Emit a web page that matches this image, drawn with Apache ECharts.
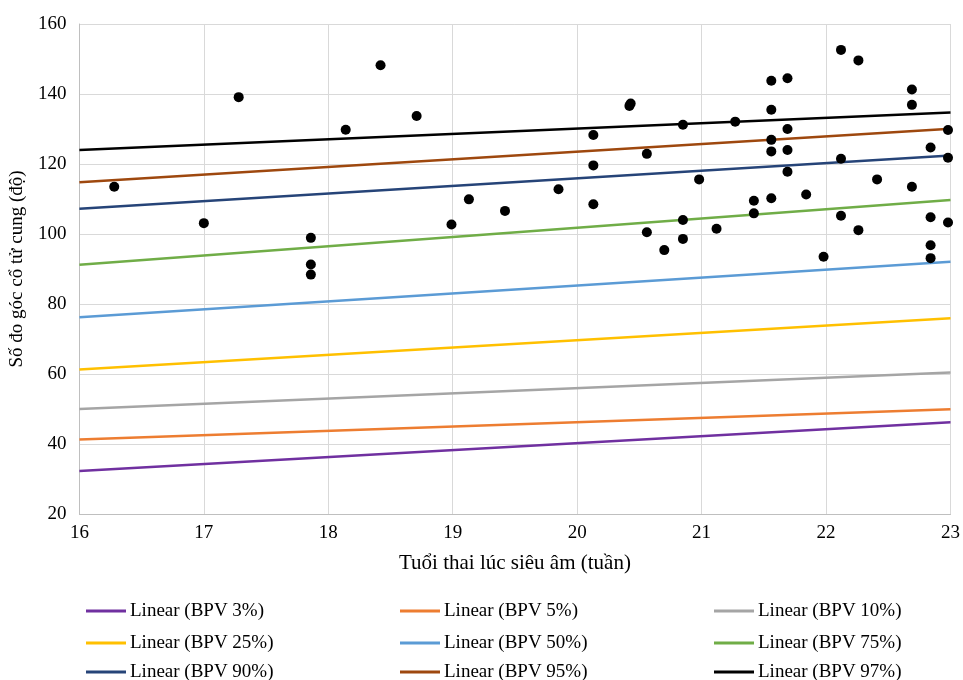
<!DOCTYPE html>
<html>
<head>
<meta charset="utf-8">
<script src="https://cdn.jsdelivr.net/npm/echarts@6/dist/echarts.min.js"></script>
<style>
	html, body { margin: 0; padding: 0; background: #fff; }
	#chart { width: 963px; height: 680px; }
</style>
</head>
<body>
<div id="chart"></div>
<script>
// tuổi thai (tuần) và số đo góc (độ) của từng ca
const ageWeeks = [
	16.28, 17.0, 17.28, 17.86, 17.86, 17.86, 18.14, 18.42, 18.71, 18.99,
	19.13, 19.42, 19.85, 20.13, 20.13, 20.13, 20.42, 20.43, 20.56, 20.56,
	20.7, 20.85, 20.85, 20.85, 20.98, 21.12, 21.27, 21.42, 21.42, 21.56,
	21.56, 21.56, 21.56, 21.56, 21.69, 21.69, 21.69, 21.69, 21.84, 21.98,
	22.12, 22.12, 22.12, 22.26, 22.26, 22.41, 22.69, 22.69, 22.69, 22.84,
	22.84, 22.84, 22.84, 22.98, 22.98, 22.98,
];
const angleDeg = [
	113.5, 103.1, 139.1, 98.9, 91.3, 88.4, 129.8, 148.2, 133.7, 102.7,
	109.9, 106.6, 112.8, 128.3, 119.6, 108.5, 136.6, 137.3, 122.9, 100.5,
	95.4, 131.2, 104.0, 98.6, 115.6, 101.5, 132.1, 109.5, 105.9, 143.8,
	135.5, 126.9, 123.6, 110.2, 144.5, 130.0, 124.0, 117.8, 111.3, 93.5,
	152.6, 121.5, 105.2, 149.6, 101.1, 115.6, 141.3, 136.9, 113.5, 124.7,
	104.8, 96.8, 93.1, 129.7, 121.8, 103.3,
];

// đường xu hướng bách phân vị: giá trị tại tuần 16 và tuần 23
const trendNames = [
	"Linear (BPV 3%)", "Linear (BPV 5%)", "Linear (BPV 10%)",
	"Linear (BPV 25%)", "Linear (BPV 50%)", "Linear (BPV 75%)",
	"Linear (BPV 90%)", "Linear (BPV 95%)", "Linear (BPV 97%)",
];
const trendStart = [32.3, 41.3, 50.0, 61.3, 76.2, 91.2, 107.2, 114.8, 124.0];
const trendEnd = [46.2, 49.9, 60.4, 75.9, 92.1, 109.7, 122.4, 130.1, 134.7];
const trendColors = [
	"#7030a0", "#ed7d31", "#a5a5a5",
	"#ffc000", "#5b9bd5", "#70ad47",
	"#264478", "#9e480e", "#000000",
];

const xTicks = [16, 17, 18, 19, 20, 21, 22, 23];
const yTicks = [20, 40, 60, 80, 100, 120, 140, 160];

const font = "'Liberation Serif', 'Times New Roman', serif";
const fontSize = 19;

const chart = echarts.init(document.getElementById("chart"), null, { renderer: "canvas" });

const legendCols = [86, 400, 714];
const legendRows = [611, 643, 672];

const legends = trendNames.map((name, i) => ({
	left: legendCols[i % 3],
	top: legendRows[Math.floor(i / 3)] - 10,
	padding: 0,
	itemWidth: 40,
	itemHeight: 3,
	itemGap: 0,
	textStyle: {
		fontFamily: font,
		fontSize: fontSize,
		color: "#000",
		lineHeight: 20,
		padding: [0, 0, 0, -1],
	},
	data: [{ name: name, icon: "rect" }],
}));

const trendSeries = trendNames.map((name, i) => ({
	name: name,
	type: "line",
	data: [
		[xTicks[0], trendStart[i]],
		[xTicks[xTicks.length - 1], trendEnd[i]],
	],
	symbol: "none",
	lineStyle: { color: trendColors[i], width: 2.5 },
	itemStyle: { color: trendColors[i] },
	silent: true,
	z: 2,
}));

const option = {
	animation: false,
	backgroundColor: "#fff",
	grid: { left: 78, right: 11, top: 24, bottom: 166 },
	legend: legends,
	xAxis: {
		type: "value",
		min: xTicks[0],
		max: xTicks[xTicks.length - 1],
		interval: 1,
		name: "Tuổi thai lúc siêu âm (tuần)",
		nameLocation: "middle",
		nameGap: 39,
		nameTextStyle: { fontFamily: font, fontSize: 21, color: "#000" },
		axisLine: { show: true, lineStyle: { color: "#bfbfbf", width: 1 } },
		axisTick: { show: false },
		axisLabel: { fontFamily: font, fontSize: fontSize, color: "#000", margin: 10 },
		splitLine: { show: true, lineStyle: { color: "#d9d9d9", width: 1 } },
	},
	yAxis: {
		type: "value",
		min: yTicks[0],
		max: yTicks[yTicks.length - 1],
		interval: 20,
		name: "Số đo góc cổ tử cung (độ)",
		nameLocation: "middle",
		nameGap: 48,
		nameTextStyle: { fontFamily: font, fontSize: fontSize, color: "#000" },
		axisLine: { show: true, lineStyle: { color: "#bfbfbf", width: 1 } },
		axisTick: { show: false },
		axisLabel: { fontFamily: font, fontSize: fontSize, color: "#000", margin: 13 },
		splitLine: { show: true, lineStyle: { color: "#d9d9d9", width: 1 } },
	},
	series: [
		...trendSeries,
		{
			name: "Số đo",
			type: "scatter",
			data: ageWeeks.map((x, i) => [x, angleDeg[i]]),
			symbol: "circle",
			symbolSize: 10,
			itemStyle: { color: "#000", opacity: 1 },
			clip: false,
			z: 3,
		},
	],
};

chart.setOption(option);
</script>
</body>
</html>
